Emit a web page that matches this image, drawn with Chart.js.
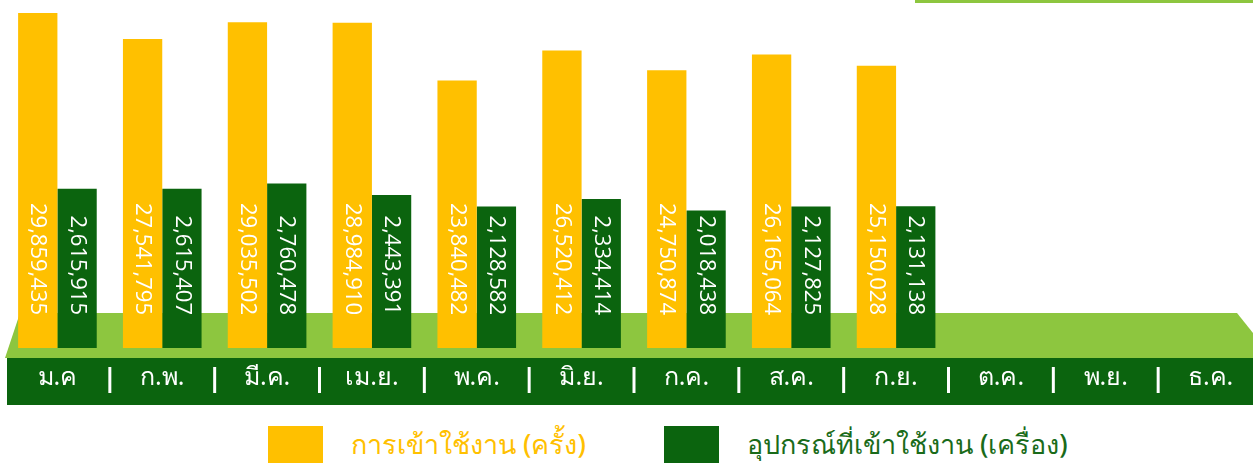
<!DOCTYPE html>
<html>
<head>
<meta charset="utf-8">
<script src="https://cdn.jsdelivr.net/npm/chart.js@4"></script>
<style>
  body { margin: 0; width: 1253px; height: 468px; overflow: hidden; background: #fff; position: relative; }
  #chart { position: absolute; left: 0; top: 0; }
  #legend { position: absolute; left: 268px; top: 423px; display: flex; align-items: center;
            font-family: "Noto Sans", "Open Sans", sans-serif; font-size: 27px; font-weight: 500; }
  .item { display: flex; align-items: center; margin-right: 78px; }
  .swatch { width: 55px; height: 37px; margin-right: 28px; }
</style>
</head>
<body>
<canvas id="chart" width="1268" height="410"></canvas>
<div id="legend"></div>
<script>
let months = ['ม.ค', 'ก.พ.', 'มี.ค.', 'เม.ย.', 'พ.ค.', 'มิ.ย.', 'ก.ค.', 'ส.ค.', 'ก.ย.', 'ต.ค.', 'พ.ย.', 'ธ.ค.'];
let visits = [29859435, 27541795, 29035502, 28984910, 23840482, 26520412, 24750874, 26165064, 25150028, null, null, null];
let devices = [2615915, 2615407, 2760478, 2443391, 2128582, 2334414, 2018438, 2127825, 2131138, null, null, null];
let seriesNames = ['การเข้าใช้งาน (ครั้ง)', 'อุปกรณ์ที่เข้าใช้งาน (เครื่อง)'];

let yellow = '#FFC000';
let darkGreen = '#0B640E';
let lightGreen = '#8DC63F';
let deviceMin = -1760000;

// floor + month band behind the bars
let floorPlugin = {
    id: 'floor',
    beforeDraw(chart) {
        let ctx = chart.ctx;
        let a = chart.chartArea;
        let w = chart.width;
        ctx.save();
        ctx.fillStyle = lightGreen;
        ctx.fillRect(915, 0, w - 915, 3);
        ctx.beginPath();
        ctx.moveTo(a.left + 15, a.bottom - 35);
        ctx.lineTo(1237, a.bottom - 35);
        ctx.lineTo(1273, a.bottom + 10);
        ctx.lineTo(a.left, a.bottom + 10);
        ctx.closePath();
        ctx.fill();
        ctx.fillStyle = darkGreen;
        ctx.fillRect(7, a.bottom + 10, w - 7, 47);
        // separators
        let x = chart.scales.x;
        ctx.strokeStyle = '#fff';
        ctx.lineWidth = 3;
        for (let i = 1; i < months.length; i++) {
            let sx = (x.getPixelForValue(i - 1) + x.getPixelForValue(i)) / 2;
            ctx.beginPath();
            ctx.moveTo(sx, a.bottom + 19);
            ctx.lineTo(sx, a.bottom + 45);
            ctx.stroke();
        }
        ctx.restore();
    }
};

let valuePlugin = {
    id: 'values',
    afterDatasetsDraw(chart) {
        let ctx = chart.ctx;
        ctx.save();
        ctx.fillStyle = '#fff';
        ctx.font = '22px "Open Sans"';
        ctx.textAlign = 'right';
        ctx.textBaseline = 'middle';
        chart.data.datasets.forEach((ds, i) => {
            chart.getDatasetMeta(i).data.forEach((bar, j) => {
                let v = ds.data[j];
                if (v == null) return;
                ctx.save();
                ctx.translate(bar.x, bar.base - 33);
                ctx.rotate(Math.PI / 2);
                ctx.fillText(v.toLocaleString('en-US'), 0, 0);
                ctx.restore();
            });
        });
        ctx.restore();
    }
};

let chart = new Chart(document.getElementById('chart').getContext('2d'), {
    type: 'bar',
    data: {
        labels: months,
        datasets: [{
            label: seriesNames[0],
            data: visits,
            backgroundColor: yellow,
            yAxisID: 'y',
            categoryPercentage: 0.75,
            barPercentage: 1
        }, {
            label: seriesNames[1],
            data: devices,
            backgroundColor: darkGreen,
            yAxisID: 'y2',
            base: deviceMin,
            categoryPercentage: 0.75,
            barPercentage: 1
        }]
    },
    options: {
        responsive: false,
        animation: false,
        devicePixelRatio: 1,
        layout: { padding: { top: 8, left: 5, right: 5, bottom: 0 } },
        plugins: { legend: { display: false }, tooltip: { enabled: false } },
        scales: {
            x: {
                grid: { display: false, drawTicks: false },
                border: { display: false },
                ticks: {
                    color: '#fff',
                    font: { family: '"Noto Sans", "Open Sans", sans-serif', size: 25 },
                    padding: 15,
                    autoSkip: false,
                    maxRotation: 0
                },
                afterFit(scale) { scale.height = 62; }
            },
            y: { display: false, min: 0, max: 30300000 },
            y2: { display: false, min: deviceMin, max: 7580000 }
        }
    },
    plugins: [floorPlugin, valuePlugin]
});

// html legend
let legendColours = [yellow, darkGreen];
let legend = document.getElementById('legend');
seriesNames.forEach((name, i) => {
    let item = document.createElement('div');
    item.className = 'item';
    item.innerHTML = '<div class="swatch" style="background:' + legendColours[i] + '"></div>' +
        '<span style="color:' + (i == 0 ? yellow : '#1A6B1A') + '">' + name + '</span>';
    legend.appendChild(item);
});
</script>
</body>
</html>
